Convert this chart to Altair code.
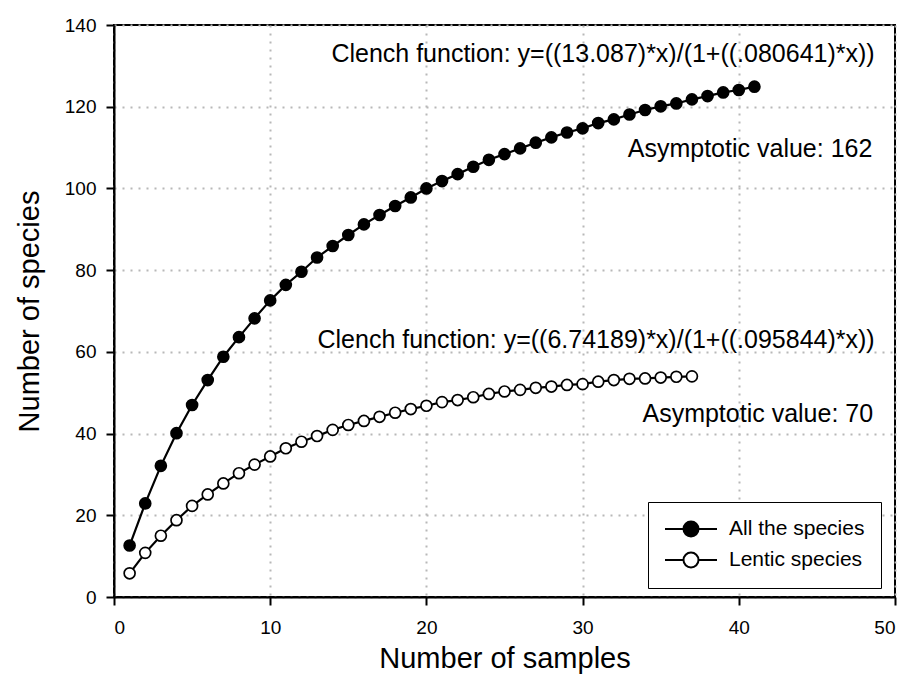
import altair as alt
import pandas as pd

# ---- data ----
samples_all = list(range(1, 42))
species_all = [12.6, 22.9, 32.1, 40.1, 47.0, 53.1, 58.8, 63.6, 68.2, 72.6,
               76.4, 79.6, 83.1, 85.9, 88.6, 91.2, 93.5, 95.7, 97.8, 100.0,
               101.8, 103.5, 105.3, 107.0, 108.4, 109.8, 111.2, 112.5, 113.7, 114.7,
               116.0, 116.9, 118.1, 119.2, 120.1, 120.8, 121.8, 122.6, 123.5, 124.1, 124.9]
samples_lentic = list(range(1, 38))
species_lentic = [5.8, 10.8, 15.0, 18.8, 22.3, 25.1, 27.8, 30.3, 32.4, 34.4,
                  36.4, 38.0, 39.4, 40.9, 42.1, 43.1, 44.1, 45.1, 46.0, 46.8,
                  47.7, 48.2, 48.9, 49.7, 50.3, 50.7, 51.2, 51.5, 51.9, 52.1,
                  52.7, 53.1, 53.4, 53.5, 53.7, 53.9, 54.0]
series_names = ["All the species", "Lentic species"]

ann_text = ["Clench function: y=((13.087)*x)/(1+((.080641)*x))",
            "Asymptotic value: 162",
            "Clench function: y=((6.74189)*x)/(1+((.095844)*x))",
            "Asymptotic value: 70"]
ann_x = [48.7, 48.55, 48.7, 48.6]
ann_y = [132.9, 109.7, 62.9, 44.8]

x_ticks = [0, 10, 20, 30, 40, 50]
y_ticks = [0, 20, 40, 60, 80, 100, 120, 140]

df = pd.DataFrame({
    "samples": samples_all + samples_lentic,
    "species": species_all + species_lentic,
    "series": [series_names[0]] * len(samples_all) + [series_names[1]] * len(samples_lentic),
})
ann = pd.DataFrame({"text": ann_text, "x": ann_x, "y": ann_y})

FONT = "Liberation Sans"

xs = alt.Scale(domain=[0, 50], nice=False, zero=False)
ys = alt.Scale(domain=[0, 140], nice=False, zero=False)

x_enc = alt.X("samples:Q", scale=xs,
              axis=alt.Axis(values=x_ticks, title="Number of samples",
                            labelPadding=13, titlePadding=7))
y_enc = alt.Y("species:Q", scale=ys,
              axis=alt.Axis(values=y_ticks, title="Number of species",
                            labelPadding=10, titlePadding=20))

legend_path = ("M-1,0L0.85,0M2.35,0L4.2,0"
               "M2.35,0A0.75,0.75,0,1,1,0.85,0A0.75,0.75,0,1,1,2.35,0Z")

lines = alt.Chart(df).mark_line(color="black", strokeWidth=2.2).encode(
    x=x_enc, y=y_enc, detail="series:N"
)

points = alt.Chart(df).mark_circle(
    size=120, stroke="black", strokeWidth=1.7, opacity=1
).encode(
    x=x_enc, y=y_enc,
    fill=alt.Fill("series:N",
                  scale=alt.Scale(domain=series_names, range=["black", "white"]),
                  legend=alt.Legend(
                      title=None, orient="none", legendX=534, legendY=477,
                      strokeColor="black", fillColor="white", padding=16,
                      symbolType=legend_path, symbolSize=400,
                      symbolStrokeColor="black", symbolStrokeWidth=2,
                      symbolOpacity=1,
                      labelOffset=43, labelFont=FONT, labelFontSize=21,
                      labelColor="black", rowPadding=7)),
)

texts = alt.Chart(ann).mark_text(
    align="right", baseline="middle", font=FONT, fontSize=25, color="black"
).encode(
    x=alt.X("x:Q", scale=xs), y=alt.Y("y:Q", scale=ys), text="text:N"
)

chart = alt.layer(lines, points, texts).properties(
    width=781, height=572,
    padding={"left": 114, "top": 25, "right": 16, "bottom": 96},
    autosize="none",
    background="white",
).configure_view(
    stroke="black", strokeWidth=2
).configure_axis(
    grid=True, gridColor="#b8b8b8", gridDash=[2, 6], gridWidth=2,
    domainColor="black", domainWidth=2,
    tickColor="black", tickWidth=2, tickSize=8,
    labelFont=FONT, labelFontSize=19, labelColor="black",
    titleFont=FONT, titleFontSize=29, titleFontWeight="normal", titleColor="black",
)

chart.save("out.html", embed_options={"renderer": "svg", "actions": False})
